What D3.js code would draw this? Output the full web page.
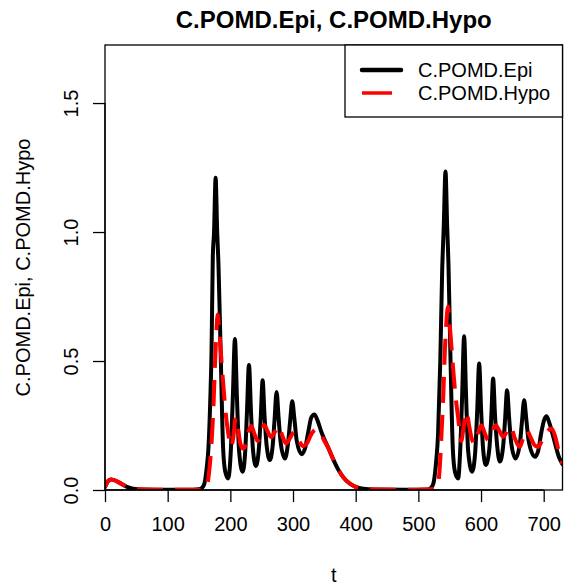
<!DOCTYPE html>
<html>
<head>
<meta charset="utf-8">
<script src="https://cdn.jsdelivr.net/npm/d3@7"></script>
<style>
  html, body { margin: 0; padding: 0; background: #fff; }
  svg { display: block; }
  text { font-family: "Liberation Sans", Arial, sans-serif; fill: #000; }
</style>
</head>
<body>
<svg id="chart" width="564" height="586"></svg>
<script>
// ---- data ----
const chartTitle = "C.POMD.Epi, C.POMD.Hypo";
const xLabel = "t";
const yLabel = "C.POMD.Epi, C.POMD.Hypo";
const seriesNames = ["C.POMD.Epi", "C.POMD.Hypo"];
const xTicks = [0, 100, 200, 300, 400, 500, 600, 700];
const yTicks = [0.0, 0.5, 1.0, 1.5];
const xDomain = [0, 730];
const yDomain = [0, 1.725];

const epiT = [0,5,10,18,26,35,45,60,100,140,152,158,162,165,168,170,172,174,176.5,179,181,184.5,188.5,192,196.7,
  200.5,204,207.3,210.5,214,219.6,
  223.5,226.5,229.7,233,236,240.8,
  245.5,248.5,251.5,254.5,258,263,
  267.5,270.5,273.8,277,280.5,287,
  292,295.5,298.8,302,306,313.7,
  319,324,329,334,339,346,356,364,372,380,390,400,412,430,480,515,520,524,528,531.5,535,538,540.5,543.3,546,548,551,555,558.5,563.5,
  566.5,569.8,573,576.2,579.5,585.8,
  590.5,593.8,597,600.3,603.3,607.7,
  613.3,616.3,619.3,622.3,625.8,630,
  635.3,638.3,641.6,644.8,648.3,655,
  662,665.5,668.8,672,676,685.8,
  691,696,700.5,704.4,709,716,724,730];
const epiV = [0.012,0.035,0.041,0.035,0.024,0.012,0.005,0.002,0.001,0.001,0.004,0.02,0.08,0.16,0.35,0.54,0.9,1.0,1.21,1.0,0.88,0.54,0.16,0.07,0.045,
  0.14,0.36,0.585,0.36,0.15,0.071,
  0.14,0.3,0.485,0.3,0.16,0.093,
  0.16,0.28,0.425,0.29,0.17,0.116,
  0.17,0.27,0.38,0.28,0.18,0.122,
  0.18,0.27,0.344,0.28,0.19,0.139,
  0.16,0.22,0.28,0.293,0.27,0.22,0.165,0.12,0.08,0.05,0.026,0.012,0.005,0.002,0.001,0.002,0.008,0.025,0.1,0.22,0.5,0.85,1.02,1.235,1.02,0.88,0.54,0.16,0.07,0.045,
  0.14,0.36,0.596,0.36,0.15,0.071,
  0.14,0.3,0.49,0.3,0.16,0.097,
  0.16,0.28,0.432,0.29,0.17,0.11,
  0.17,0.27,0.387,0.28,0.18,0.122,
  0.18,0.27,0.348,0.28,0.19,0.129,
  0.15,0.22,0.27,0.286,0.26,0.2,0.13,0.1];

const hypoT = [0,5,10,18,26,35,45,60,100,150,160,164,167,170,173,175.4,177.5,179.7,182,185,188.7,192.5,196.7,201,
  204.5,208.5,212,216,220.5,225,229,233.5,238,244,249,254,259,265,271,277,283,289,295,302,308,316,322,330,337,343,350,356,364,372,380,390,400,412,430,480,
  515,524,528,532,534.5,537,540,542.3,545,547.3,549.5,552,555.5,559.5,563.5,568.5,572,576.8,581,585,590,595,600.7,606,611.3,617,623.6,629,635.3,641,647,654,661.9,667,672.5,679,685,691,697,705,712.4,718,724,730];
const hypoV = [0.012,0.035,0.041,0.035,0.024,0.012,0.005,0.002,0.001,0.001,0.005,0.03,0.09,0.18,0.32,0.48,0.6,0.68,0.63,0.53,0.41,0.3,0.22,0.167,
  0.2,0.28,0.24,0.18,0.16,0.18,0.225,0.248,0.22,0.19,0.22,0.252,0.23,0.205,0.225,0.248,0.21,0.18,0.2,0.225,0.2,0.17,0.18,0.22,0.235,0.225,0.19,0.165,0.12,0.08,0.05,0.026,0.012,0.005,0.002,0.001,
  0.002,0.004,0.008,0.03,0.1,0.22,0.38,0.54,0.66,0.71,0.66,0.58,0.47,0.36,0.28,0.19,0.24,0.303,0.25,0.2,0.18,0.22,0.251,0.22,0.193,0.22,0.251,0.23,0.206,0.225,0.247,0.2,0.167,0.2,0.232,0.205,0.175,0.167,0.19,0.225,0.238,0.21,0.15,0.1];

// ---- layout ----
const plot = { left: 105, top: 45, right: 562.5, bottom: 490 };
const svg = d3.select("#chart");

const x = d3.scaleLinear().domain(xDomain).range([plot.left, plot.right]);
const y = d3.scaleLinear().domain(yDomain).range([plot.bottom, plot.top]);

svg.append("defs").append("clipPath").attr("id", "clip")
  .append("rect").attr("x", plot.left).attr("y", plot.top)
  .attr("width", plot.right - plot.left).attr("height", plot.bottom - plot.top);

const line = d3.line().x(d => x(d[0])).y(d => y(d[1])).curve(d3.curveMonotoneX);
const epi = epiT.map((t, i) => [t, epiV[i]]);
const hypo = hypoT.map((t, i) => [t, hypoV[i]]);

const g = svg.append("g").attr("clip-path", "url(#clip)");
g.append("path").datum(epi).attr("d", line)
  .attr("fill", "none").attr("stroke", "#000").attr("stroke-width", 4)
  .attr("stroke-linejoin", "round").attr("stroke-linecap", "round");
g.append("path").datum(hypo).attr("d", line)
  .attr("fill", "none").attr("stroke", "#ff0000").attr("stroke-width", 4)
  .attr("stroke-dasharray", "26,12").attr("stroke-linejoin", "round");

// axes
const xAxis = d3.axisBottom(x).tickValues(xTicks).tickSize(12).tickSizeOuter(0).tickPadding(0).tickFormat(d3.format("d"));
const xg = svg.append("g").attr("transform", `translate(0,${plot.bottom})`).call(xAxis);
xg.select(".domain").attr("d", `M${x(xTicks[0])},0H${x(xTicks[xTicks.length-1])}`);
xg.selectAll(".tick line").attr("stroke", "#000").attr("stroke-width", 1.3);
xg.selectAll(".domain").attr("stroke", "#000").attr("stroke-width", 1.3);
xg.selectAll(".tick text").attr("font-size", 20).attr("font-family", "Liberation Sans, Arial, sans-serif")
  .attr("y", 41).attr("dy", null).attr("fill", "#000");

const yAxis = d3.axisLeft(y).tickValues(yTicks).tickSize(12).tickSizeOuter(0).tickFormat(d3.format(".1f"));
const yg = svg.append("g").attr("transform", `translate(${plot.left},0)`).call(yAxis);
yg.select(".domain").attr("d", `M0,${y(yTicks[0])}V${y(yTicks[yTicks.length-1])}`);
yg.selectAll(".tick line").attr("stroke", "#000").attr("stroke-width", 1.3);
yg.selectAll(".domain").attr("stroke", "#000").attr("stroke-width", 1.3);
yg.selectAll(".tick text").attr("font-size", 20).attr("font-family", "Liberation Sans, Arial, sans-serif")
  .attr("x", null).attr("dy", null).attr("text-anchor", "middle")
  .attr("transform", "translate(-27,0) rotate(-90)").attr("fill", "#000");

// frame
svg.append("rect").attr("x", plot.left).attr("y", plot.top)
  .attr("width", plot.right - plot.left).attr("height", plot.bottom - plot.top)
  .attr("fill", "none").attr("stroke", "#000").attr("stroke-width", 1.3);

// titles
svg.append("text").attr("x", (plot.left + plot.right) / 2).attr("y", 28)
  .attr("text-anchor", "middle").attr("font-size", 24).attr("font-weight", "bold").text(chartTitle);
svg.append("text").attr("x", (plot.left + plot.right) / 2).attr("y", 582)
  .attr("text-anchor", "middle").attr("font-size", 20).text(xLabel);
svg.append("text").attr("transform", `translate(30,${(plot.top + plot.bottom) / 2}) rotate(-90)`)
  .attr("text-anchor", "middle").attr("font-size", 20).text(yLabel);

// legend
const lg = svg.append("g");
lg.append("rect").attr("x", 345).attr("y", plot.top).attr("width", plot.right - 345).attr("height", 72)
  .attr("fill", "#fff").attr("stroke", "#000").attr("stroke-width", 1.3);
const legendStyles = [
  { color: "#000", dash: null, width: 4.5 },
  { color: "#ff0000", dash: "30,12", width: 3.5 }
];
seriesNames.forEach((name, i) => {
  const yy = 70 + i * 23;
  lg.append("line").attr("x1", 362).attr("x2", 401).attr("y1", yy).attr("y2", yy)
    .attr("stroke", legendStyles[i].color).attr("stroke-width", legendStyles[i].width)
    .attr("stroke-linecap", i === 0 ? "round" : "butt")
    .attr("stroke-dasharray", legendStyles[i].dash);
  lg.append("text").attr("x", 418).attr("y", yy + 7).attr("font-size", 20).text(name);
});
</script>
</body>
</html>
